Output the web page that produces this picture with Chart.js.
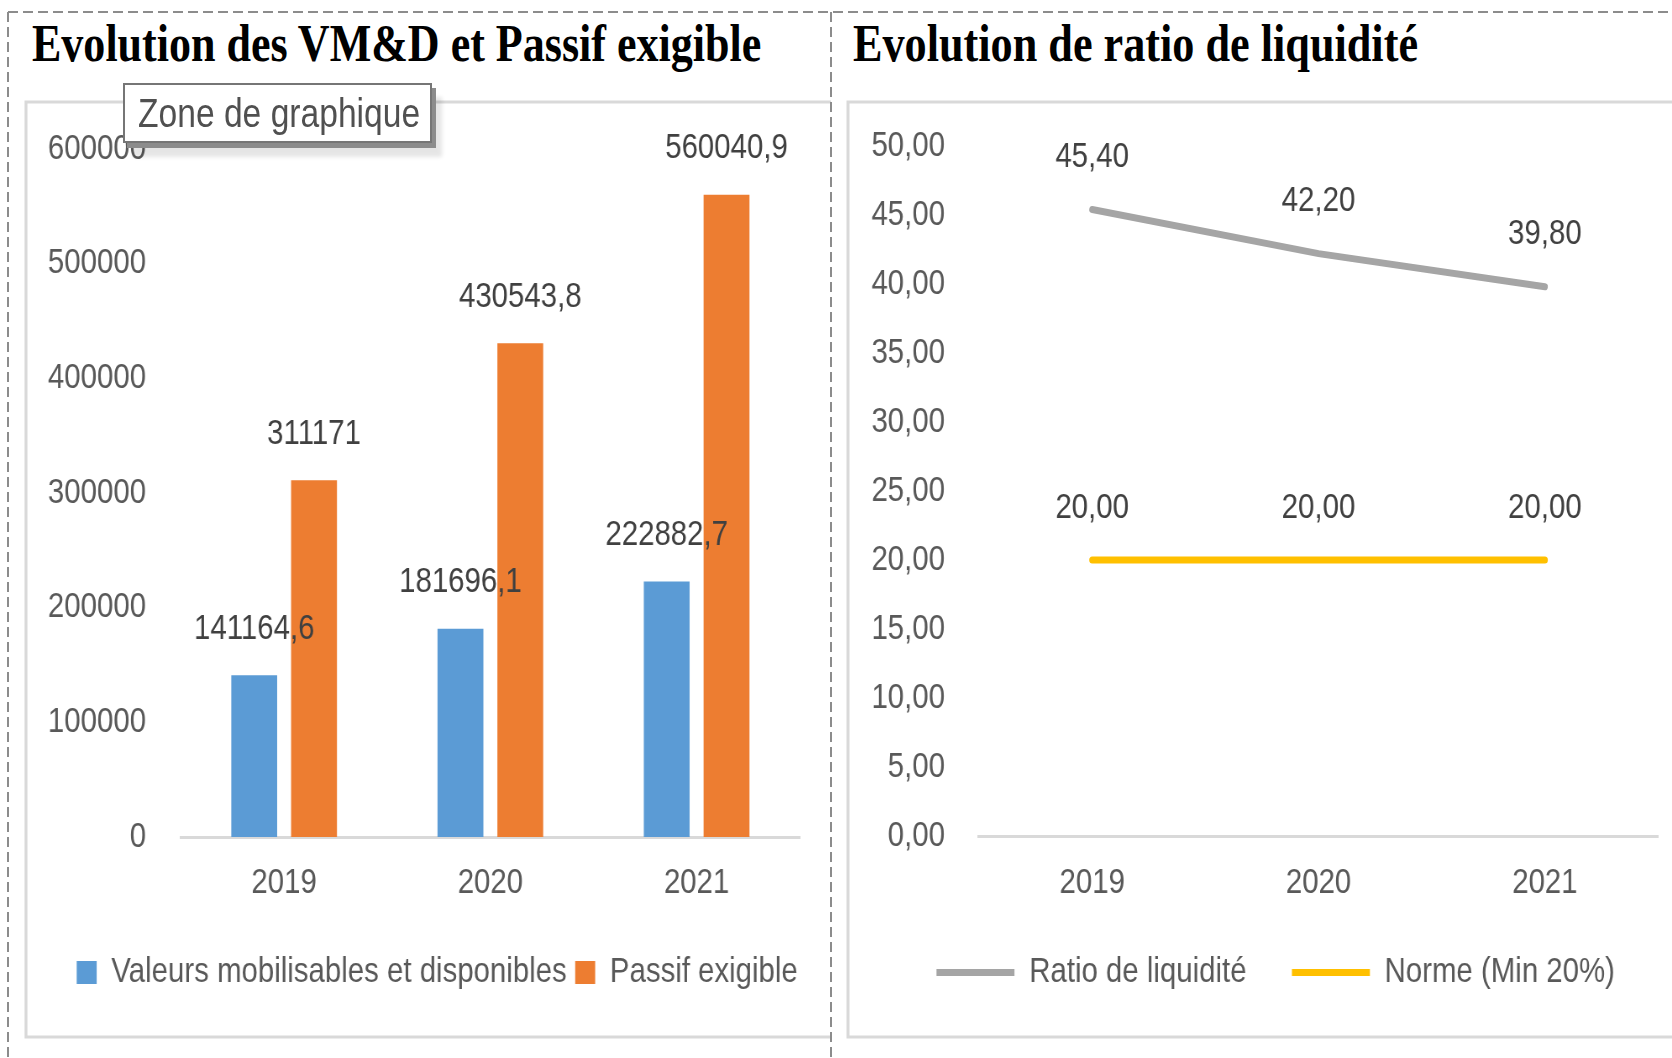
<!DOCTYPE html>
<html>
<head>
<meta charset="utf-8">
<script src="https://cdn.jsdelivr.net/npm/chart.js@4/dist/chart.umd.min.js"></script>
<style>
  body { margin: 0; background: #fff; }
  #page { position: relative; width: 1672px; height: 1058px; overflow: hidden; }
  #frame { position: absolute; left: 0; top: 0; }
  canvas { position: absolute; transform-origin: 0 0; }
  .title {
    position: absolute; top: 18px; font: bold 52px "Liberation Serif", serif;
    line-height: 52px; color: #000; white-space: nowrap; transform-origin: left top;
  }
  #tip {
    position: absolute; left: 123px; top: 83px; width: 305px; height: 56px;
    border: 2px solid #767676; background: #fff;
    box-shadow: 4px 5px 0 #8c8c8c, 10px 14px 4px rgba(0,0,0,0.10);
    white-space: nowrap; overflow: hidden;
  }
  #tip span {
    display: inline-block; margin-left: 13px; font: 40px "Liberation Sans", Arial, sans-serif;
    color: #505050; line-height: 56px; transform: scaleX(0.84); transform-origin: left center;
  }
</style>
</head>
<body>
<div id="page">
  <svg id="frame" width="1672" height="1058">
    <g stroke="#d9d9d9" stroke-width="3" fill="none">
      <polyline points="831,102 26,102 26,1037 831,1037" />
      <polyline points="1672,102 848,102 848,1037 1672,1037" />
    </g>
    <g stroke="#8c8c8c" stroke-width="2" stroke-dasharray="10 5">
      <line x1="8" y1="12" x2="1672" y2="12" />
      <line x1="8" y1="12" x2="8" y2="1058" />
      <line x1="831" y1="12" x2="831" y2="1058" />
    </g>
  </svg>
  <div class="title" id="t1" style="left:32px">Evolution des VM&amp;D et Passif exigible</div>
  <div class="title" id="t2" style="left:853px">Evolution de ratio de liquidité</div>
  <canvas id="barChart" style="left:26px;top:102px"></canvas>
  <canvas id="lineChart" style="left:848px;top:102px"></canvas>
  <div id="tip"><span>Zone de graphique</span></div>
</div>
<script>
// data
const years = ["2019", "2020", "2021"]
const vmd = [141164.6, 181696.1, 222882.7]
const passif = [311171, 430543.8, 560040.9]
const barTicks = [0, 100000, 200000, 300000, 400000, 500000, 600000]
const ratio = [45.4, 42.2, 39.8]
const norme = [20, 20, 20]
const lineTicks = [0, 5, 10, 15, 20, 25, 30, 35, 40, 45, 50]

// the original screenshot is squeezed sideways: draw wider, then scale back
const S = 0.84
const FONT = '"Liberation Sans", Arial, sans-serif'
Chart.defaults.font.family = FONT
Chart.defaults.font.size = 35
Chart.defaults.color = "#595959"

function setupCanvas(id, w, h) {
  const c = document.getElementById(id)
  c.width = Math.round(w / S)
  c.height = h
  c.style.transform = "scaleX(" + S + ")"
  return c
}

// titles are condensed in the original, squeeze them to width
function fitTitle(id, target) {
  const el = document.getElementById(id)
  const c = document.createElement("canvas").getContext("2d")
  c.font = 'bold 52px "Liberation Serif"'
  const w = c.measureText(el.textContent).width
  el.style.transform = "scaleX(" + (target / w) + ")"
}
fitTitle("t1", 730)
fitTitle("t2", 565)

function comma(v) {
  return String(v).replace(".", ",")
}
function comma2(v) {
  return v.toFixed(2).replace(".", ",")
}

// value labels above bars / points
const valueLabels = {
  id: "valueLabels",
  afterDatasetsDraw(chart, args, opts) {
    const ctx = chart.ctx
    ctx.save()
    ctx.font = "35px " + FONT
    ctx.fillStyle = "#404040"
    ctx.textAlign = "center"
    ctx.textBaseline = "middle"
    chart.data.datasets.forEach((ds, i) => {
      chart.getDatasetMeta(i).data.forEach((el, j) => {
        ctx.fillText(opts.format(ds.data[j]), el.x, el.y - opts.offset)
      })
    })
    ctx.restore()
  },
}

// nudge the legend sideways like in the original
const legendShift = {
  id: "legendShift",
  afterLayout(chart, args, opts) {
    chart.legend.left += opts.dx
    chart.legend.right += opts.dx
  },
}

// y axis: fixed width, no extra top room for the label padding
function yFit(width) {
  return (s) => {
    s.width = width
    s.paddingTop = 0
    s.paddingBottom = 0
  }
}

new Chart(setupCanvas("barChart", 805, 935), {
  type: "bar",
  data: {
    labels: years,
    datasets: [
      {
        label: "Valeurs mobilisables et disponibles",
        data: vmd,
        backgroundColor: "#5b9bd5",
        categoryPercentage: 0.58,
        barPercentage: 0.767,
      },
      {
        label: "Passif exigible",
        data: passif,
        backgroundColor: "#ed7d31",
        categoryPercentage: 0.58,
        barPercentage: 0.767,
      },
    ],
  },
  options: {
    responsive: false,
    animation: false,
    devicePixelRatio: 1,
    layout: { padding: { top: 47, right: 31 / S, left: 0, bottom: 37 } },
    plugins: {
      legend: {
        position: "bottom",
        labels: { boxWidth: 20 / S, boxHeight: 23, padding: 10, color: "#595959" },
      },
      legendShift: { dx: 29 },
      tooltip: { enabled: false },
      valueLabels: { offset: 46, format: comma },
    },
    scales: {
      x: {
        grid: { display: false, drawTicks: false },
        border: { display: true, color: "#d9d9d9", width: 3 },
        ticks: { padding: 25 },
        afterFit: (s) => { s.height = 108 },
      },
      y: {
        min: 0,
        max: 600000,
        grid: { display: false, drawTicks: false },
        border: { display: false },
        ticks: { padding: 35 / S, callback: (v) => String(v) },
        afterBuildTicks: (s) => { s.ticks = barTicks.map((v) => ({ value: v })) },
        afterFit: yFit(155 / S),
      },
    },
  },
  plugins: [valueLabels, legendShift],
})

new Chart(setupCanvas("lineChart", 824, 935), {
  type: "line",
  data: {
    labels: years,
    datasets: [
      {
        label: "Ratio de liquidité",
        data: ratio,
        borderColor: "#a5a5a5",
        backgroundColor: "#a5a5a5",
        borderWidth: 7,
        borderCapStyle: "round",
        pointRadius: 0,
        pointStyle: "line",
        tension: 0,
      },
      {
        label: "Norme (Min 20%)",
        data: norme,
        borderColor: "#ffc000",
        backgroundColor: "#ffc000",
        borderWidth: 7,
        borderCapStyle: "round",
        pointRadius: 0,
        pointStyle: "line",
        tension: 0,
      },
    ],
  },
  options: {
    responsive: false,
    animation: false,
    devicePixelRatio: 1,
    layout: { padding: { top: 44, right: 14 / S, left: 0, bottom: 37 } },
    plugins: {
      legend: {
        position: "bottom",
        labels: { usePointStyle: true, pointStyleWidth: 78 / S, padding: 54, color: "#595959" },
      },
      legendShift: { dx: 27 },
      tooltip: { enabled: false },
      valueLabels: { offset: 52, format: comma2 },
    },
    scales: {
      x: {
        offset: true,
        grid: { display: false, drawTicks: false, offset: true },
        border: { display: true, color: "#d9d9d9", width: 3 },
        ticks: { padding: 26 },
        afterFit: (s) => { s.height = 65 },
      },
      y: {
        min: 0,
        max: 50,
        grid: { display: false, drawTicks: false },
        border: { display: false },
        ticks: { padding: 34 / S, callback: (v) => comma2(v) },
        afterBuildTicks: (s) => { s.ticks = lineTicks.map((v) => ({ value: v })) },
        afterFit: yFit(131 / S),
      },
    },
  },
  plugins: [valueLabels, legendShift],
})
</script>
</body>
</html>
